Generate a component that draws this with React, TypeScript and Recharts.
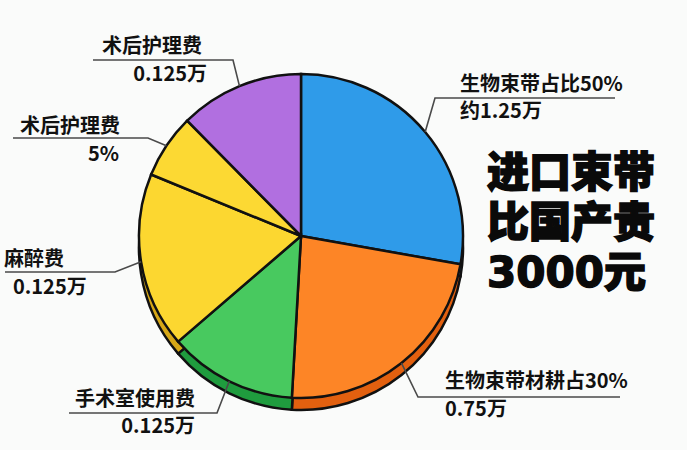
import React from 'react';
import { PieChart, Pie, Cell } from 'recharts';

// slice order: clockwise from 12 o'clock
const names = ['生物束带', '生物束带材耕', '手术室使用费', '麻醉费', '术后护理费', '术后护理费'];
const shares = [27.8, 23.1, 12.8, 17.5, 6.4, 12.4];
const labelLine1 = ['生物束带占比50%', '生物束带材耕占30%', '手术室使用费', '麻醉费', '术后护理费', '术后护理费'];
const labelLine2 = ['约1.25万', '0.75万', '0.125万', '0.125万', '5%', '0.125万'];
const headline = ['进口束带', '比国产贵', '3000元'];

const TOP_COLORS = ['#2f9be9', '#fd8526', '#48c95f', '#fcd730', '#fcd933', '#b16fe0'];
const SIDE_COLORS = ['#1f7fcc', '#e2600f', '#1f9c3e', '#d6a717', '#d6a717', '#8a4fc0'];

const FONT = '"Noto Sans CJK SC", "Noto Sans", sans-serif';
// wide heavy digits for the headline, CJK falls through to Noto
const HEAD_FONT = '"DejaVu Sans", "Noto Sans CJK SC", sans-serif';

// elbow / text placement for each callout
const LAYOUT = [
  { ex: 435, ey: 98, lx: 615, tx: 460, anchor: 'start', y1: 91, y2: 118, tx2: 460 },
  { ex: 418, ey: 397, lx: 620, tx: 445, anchor: 'start', y1: 388, y2: 416, tx2: 445 },
  { ex: 217, ey: 413, lx: 69, tx: 195, anchor: 'end', y1: 406, y2: 433, tx2: 195 },
  { ex: 115, ey: 272, lx: 5, tx: 4, anchor: 'start', y1: 266, y2: 294, tx2: 13 },
  { ex: 148, ey: 138, lx: 13, tx: 120, anchor: 'end', y1: 133, y2: 161, tx2: 119 },
  { ex: 233, ey: 60, lx: 93, tx: 202, anchor: 'end', y1: 53, y2: 81, tx2: 207 },
];

const data = names.map((name, i) => ({ name, value: shares[i] }));

const RAD = Math.PI / 180;

const renderCallout = (props: any) => {
  const { cx, cy, midAngle, outerRadius, index } = props;
  const l = LAYOUT[index];
  const sx = cx + outerRadius * Math.cos(-midAngle * RAD);
  const sy = cy + outerRadius * Math.sin(-midAngle * RAD);
  return (
    <g key={`callout-${index}`}>
      <polyline
        points={`${sx},${sy} ${l.ex},${l.ey} ${l.lx},${l.ey}`}
        fill="none"
        stroke="#4a4a4a"
        strokeWidth={1.6}
      />
      <text x={l.tx} y={l.y1} textAnchor={l.anchor} fontFamily={FONT} fontWeight={700} fontSize={20} fill="#111">
        {labelLine1[index]}
      </text>
      <text x={l.tx2} y={l.y2} textAnchor={l.anchor} fontFamily={FONT} fontWeight={700} fontSize={20} fill="#111">
        {labelLine2[index]}
      </text>
    </g>
  );
};

export default function App() {
  return (
    <div style={{ position: 'fixed', left: 0, top: 0, width: 687, height: 450, background: '#fafbfa' }}>
      <PieChart width={687} height={450} margin={{ top: 0, right: 0, bottom: 0, left: 0 }}>
        {/* side wall, shifted down to fake depth */}
        <Pie
          data={data}
          dataKey="value"
          cx={301}
          cy={248}
          outerRadius={162}
          startAngle={90}
          endAngle={-270}
          stroke="#111"
          strokeWidth={2.5}
          label={false}
          labelLine={false}
          isAnimationActive={false}
        >
          {data.map((_, i) => (
            <Cell key={`side-${i}`} fill={SIDE_COLORS[i]} />
          ))}
        </Pie>
        <Pie
          data={data}
          dataKey="value"
          cx={301}
          cy={236}
          outerRadius={162}
          startAngle={90}
          endAngle={-270}
          stroke="#111"
          strokeWidth={2.5}
          label={renderCallout}
          labelLine={false}
          isAnimationActive={false}
        >
          {data.map((_, i) => (
            <Cell key={`top-${i}`} fill={TOP_COLORS[i]} />
          ))}
        </Pie>
      </PieChart>
      <div
        style={{
          position: 'absolute',
          left: 487,
          top: 148,
          fontFamily: HEAD_FONT,
          fontWeight: 900,
          fontSize: 42,
          lineHeight: '50px',
          color: '#0a0a0a',
          WebkitTextStroke: '1.5px #0a0a0a',
          whiteSpace: 'pre',
        }}
      >
        {headline.join('\n')}
      </div>
    </div>
  );
}
